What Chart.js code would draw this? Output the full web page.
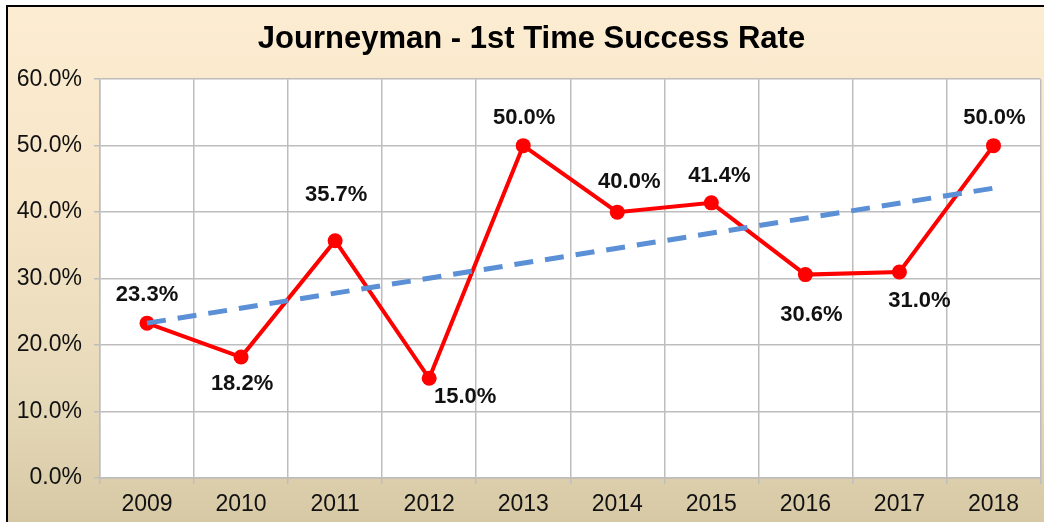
<!DOCTYPE html>
<html>
<head>
<meta charset="utf-8">
<script src="https://cdn.jsdelivr.net/npm/chart.js@4/dist/chart.umd.min.js"></script>
<style>
    html, body { margin: 0; padding: 0; background: #fff; overflow: hidden; }
    #frame {
        position: absolute;
        left: 6px;
        top: 5px;
        width: 1040px;
        height: 515px;
        border: 2px solid #000;
        background: linear-gradient(to bottom, #fcecd1 0%, #f7e6c8 35%, #e6d9b9 75%, #d7c9a5 100%);
    }
    canvas { display: block; }
</style>
</head>
<body>
<div id="frame"><canvas id="rateChart" width="1040" height="515"></canvas></div>
<script>
    'use strict';

    var years = ['2009', '2010', '2011', '2012', '2013', '2014', '2015', '2016', '2017', '2018'];
    var successRate = [23.3, 18.2, 35.7, 15.0, 50.0, 40.0, 41.4, 30.6, 31.0, 50.0];
    // dashed trend line, end points
    var trendRate = [23.3, null, null, null, null, null, null, null, null, 43.6];
    var yTicks = [0, 10, 20, 30, 40, 50, 60];

    // label placement relative to each point (px)
    var labelDx = [0, 1, 1, 36, 1, 12, 8, 6, 20, 1];
    var labelDy = [-28, 27, -46, 19, -28, -30, -27, 40, 29, -28];

    var plotBackground = {
        id: 'plotBackground',
        beforeDraw: function(chart) {
            var ctx = chart.ctx;
            var a = chart.chartArea;
            ctx.save();
            ctx.fillStyle = '#ffffff';
            ctx.fillRect(a.left, a.top, a.right - a.left, a.bottom - a.top);
            ctx.restore();
        }
    };

    var pointLabels = {
        id: 'pointLabels',
        afterDraw: function(chart) {
            var ctx = chart.ctx;
            var meta = chart.getDatasetMeta(0);
            ctx.save();
            ctx.font = 'bold 22px "Liberation Sans", Arial, sans-serif';
            ctx.fillStyle = '#111';
            ctx.textAlign = 'center';
            ctx.textBaseline = 'middle';
            meta.data.forEach(function(pt, i) {
                ctx.fillText(successRate[i].toFixed(1) + '%', pt.x + labelDx[i], pt.y + labelDy[i]);
            });
            ctx.restore();
        }
    };

    var CHART = document.getElementById('rateChart');
    var tickFont = { family: '"Liberation Sans", Arial, sans-serif', size: 23 };

    var rateChart = new Chart(CHART, {
        type: 'line',
        data: {
            labels: years,
            datasets: [{
                label: 'Success Rate',
                data: successRate,
                borderColor: '#ff0000',
                backgroundColor: '#ff0000',
                borderWidth: 4,
                pointRadius: 7.5,
                pointBorderWidth: 0,
                pointBackgroundColor: '#ff0000',
                lineTension: 0,
                fill: false,
                order: 2
            }, {
                label: 'Trend',
                data: trendRate,
                borderColor: '#5b8fd6',
                borderWidth: 5,
                borderDash: [19, 12],
                pointRadius: 0,
                spanGaps: true,
                fill: false,
                order: 1
            }]
        },
        options: {
            responsive: false,
            animation: false,
            layout: { padding: { left: 7, right: 0, top: 0, bottom: 0 } },
            plugins: {
                legend: { display: false },
                tooltip: { enabled: false },
                title: {
                    display: true,
                    text: 'Journeyman - 1st Time Success Rate',
                    color: '#000',
                    font: { family: '"Liberation Sans", Arial, sans-serif', size: 31, weight: 'bold' },
                    padding: { top: 14, bottom: 21 }
                }
            },
            scales: {
                x: {
                    offset: true,
                    grid: { offset: true, color: '#bdbdbd', lineWidth: 1.5, tickLength: 6, drawTicks: true },
                    border: { color: '#bdbdbd', width: 1.5 },
                    ticks: { color: '#111', font: tickFont, padding: 7, maxRotation: 0 },
                    afterFit: function(scale) { scale.height = 44; }
                },
                y: {
                    min: 0,
                    max: 60,
                    afterBuildTicks: function(scale) {
                        scale.ticks = yTicks.map(function(v) { return { value: v }; });
                    },
                    grid: { color: '#bdbdbd', lineWidth: 1.5, tickLength: 6 },
                    border: { color: '#bdbdbd', width: 1.5 },
                    ticks: {
                        color: '#111',
                        font: tickFont,
                        padding: 12,
                        callback: function(v) { return v.toFixed(1) + '%'; }
                    },
                    afterFit: function(scale) { scale.width = 85; }
                }
            }
        },
        plugins: [plotBackground, pointLabels]
    });
</script>
</body>
</html>
